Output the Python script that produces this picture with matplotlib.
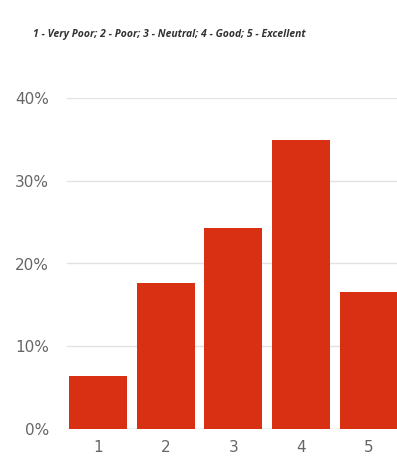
import matplotlib
matplotlib.use("Agg")
import matplotlib.pyplot as plt
from matplotlib.ticker import PercentFormatter

# ratings and share of responses (%)
ratings = ["1", "2", "3", "4", "5"]
shares = [6.4, 17.7, 24.3, 34.9, 16.5]
y_ticks = [0, 10, 20, 30, 40]
subtitle = "1 - Very Poor; 2 - Poor; 3 - Neutral; 4 - Good; 5 - Excellent"

bar_color = "#d93014"
grid_color = "#e2e2e2"
label_color = "#666666"

fig = plt.figure(figsize=(3.97, 4.69), dpi=100)
ax = fig.add_axes([67 / 397, 40 / 469, 330 / 397, 331 / 469])

x = range(len(ratings))
ax.bar(x, shares, width=0.86, color=bar_color, zorder=3)

ax.set_xlim(-0.46, 4.42)
ax.set_ylim(0, 40)
ax.set_yticks(y_ticks)
ax.yaxis.set_major_formatter(PercentFormatter(decimals=0))
ax.set_xticks(list(x))
ax.set_xticklabels(ratings)

ax.grid(axis="y", color=grid_color, linewidth=1, zorder=0)
ax.axhline(0, color="#cccccc", linewidth=1, zorder=1)
for s in ax.spines.values():
    s.set_visible(False)
ax.tick_params(axis="both", length=0, labelsize=11, labelcolor=label_color)
ax.tick_params(axis="y", pad=13)
ax.tick_params(axis="x", pad=8)

fig.text(33 / 397, 1 - 34 / 469, subtitle, fontsize=7.5, fontweight="bold",
         fontstyle="italic", family="Open Sans", color="#333333", va="center")

fig.savefig("out.png", dpi=100)
